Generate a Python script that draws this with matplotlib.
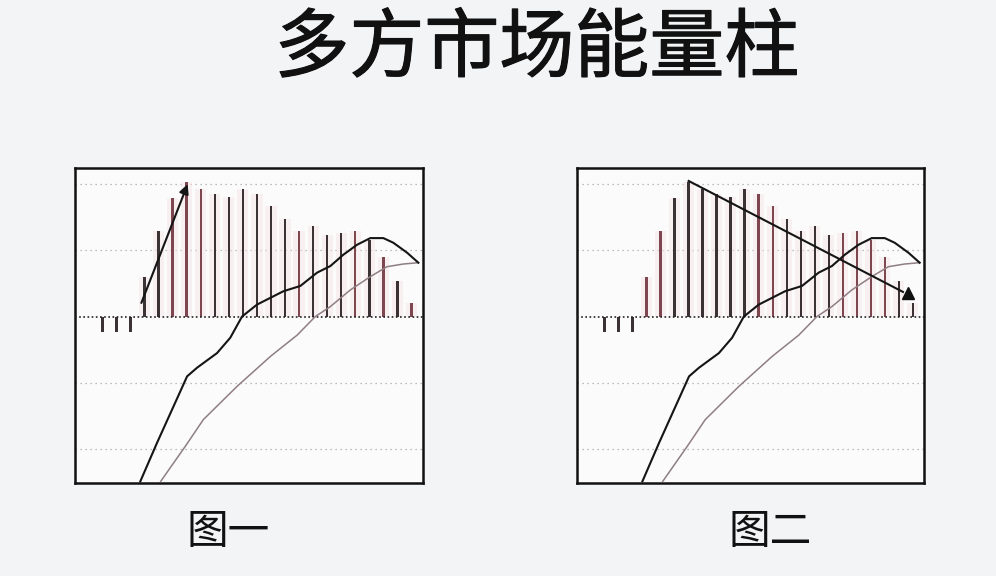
import matplotlib.pyplot as plt
import matplotlib.patheffects as pe

plt.rcParams['font.family'] = ['Noto Sans CJK SC', 'DejaVu Sans']

# histogram bars (index, height in grid units)
bar_x = list(range(23))
bar_h = [-0.24, -0.24, -0.24, 0.60, 1.28, 1.79, 2.02, 1.92, 1.85, 1.80, 1.92,
         1.85, 1.66, 1.46, 1.28, 1.36, 1.22, 1.26, 1.28, 1.15, 0.90, 0.53, 0.21]

# fast line (black)
fast_x = [2.70, 3.89, 6.03, 6.74, 8.16, 9.10, 9.94, 11.01, 12.88, 14.09, 15.28,
          16.23, 17.15, 18.13, 19.07, 20.00, 20.71, 21.69, 22.49]
fast_y = [-2.48, -1.90, -0.90, -0.77, -0.55, -0.32, 0.00, 0.18, 0.38, 0.46, 0.66,
          0.76, 0.93, 1.08, 1.18, 1.18, 1.11, 0.96, 0.81]

# slow line (grey)
slow_x = [4.15, 5.91, 7.19, 9.59, 11.96, 13.86, 15.16, 16.23, 17.65, 19.07,
          20.26, 21.42, 22.49]
slow_y = [-2.48, -1.95, -1.55, -1.05, -0.60, -0.28, 0.00, 0.15, 0.40, 0.60,
          0.75, 0.79, 0.81]

# per-bar tint (d = dark, r = reddish)
tint1 = "ddd" + "ddrrrddddddrdddrdrdr"
tint2 = "ddd" + "rrddddddrrddddrrrrdd"
cmap = {"d": "#3a3234", "r": "#7e4750"}

fig = plt.figure(figsize=(9.96, 5.76), dpi=100, facecolor="#f3f4f6")

fig.text(0.539, 0.914, "多方市场能量柱", ha="center", va="center",
         fontsize=54, fontweight="normal", color="#111111",
         path_effects=[pe.withStroke(linewidth=0.8, foreground="#111111")])


def draw_panel(ax, tint):
    ax.set_facecolor("#fbfbfb")
    ax.set_xlim(-1.95, 22.8)
    ax.set_ylim(-2.50, 2.23)
    ax.set_xticks([])
    ax.set_yticks([])
    for s in ax.spines.values():
        s.set_linewidth(1.8)
        s.set_color("#111111")

    for g in [-2, -1, 1, 2]:
        ax.axhline(g, color="#a8a8a8", lw=0.9, ls=(0, (1, 3)), zorder=1)
    ax.axhline(0, color="#222222", lw=1.2, ls=(0, (1, 1.5)), zorder=4)

    pos_x = [x for x, h in zip(bar_x, bar_h) if h > 0]
    pos_h = [h for h in bar_h if h > 0]
    ax.bar(pos_x, pos_h, width=0.8, color="#f6e4e6", alpha=0.5, zorder=1)
    cols = [cmap[c] for c in tint]
    ax.bar(bar_x, bar_h, width=0.17, color=cols, zorder=3)

    ax.plot(slow_x, slow_y, color="#8f7e84", lw=1.1, zorder=5)
    ax.plot(fast_x, fast_y, color="#151515", lw=1.5, zorder=6)


ax1 = fig.add_axes([0.0753, 0.1620, 0.3491, 0.5458])
draw_panel(ax1, tint1)
ax1.annotate("", xy=(6.14, 2.03), xytext=(2.70, 0.165),
             arrowprops=dict(arrowstyle="-|>", color="#151515", lw=1.5,
                             mutation_scale=14), zorder=7)

ax2 = fig.add_axes([0.5796, 0.1620, 0.3481, 0.5458])
draw_panel(ax2, tint2)
ax2.plot([6.0, 21.3], [2.04, 0.37], color="#151515", lw=1.5, zorder=7)
ax2.plot([21.65], [0.36], marker="^", color="#111111", markersize=8, zorder=8)

fig.text(0.229, 0.076, "图一", ha="center", va="center", fontsize=30,
         color="#111111")
fig.text(0.773, 0.076, "图二", ha="center", va="center", fontsize=30,
         color="#111111")

fig.savefig("out.png", dpi=100, facecolor=fig.get_facecolor())
